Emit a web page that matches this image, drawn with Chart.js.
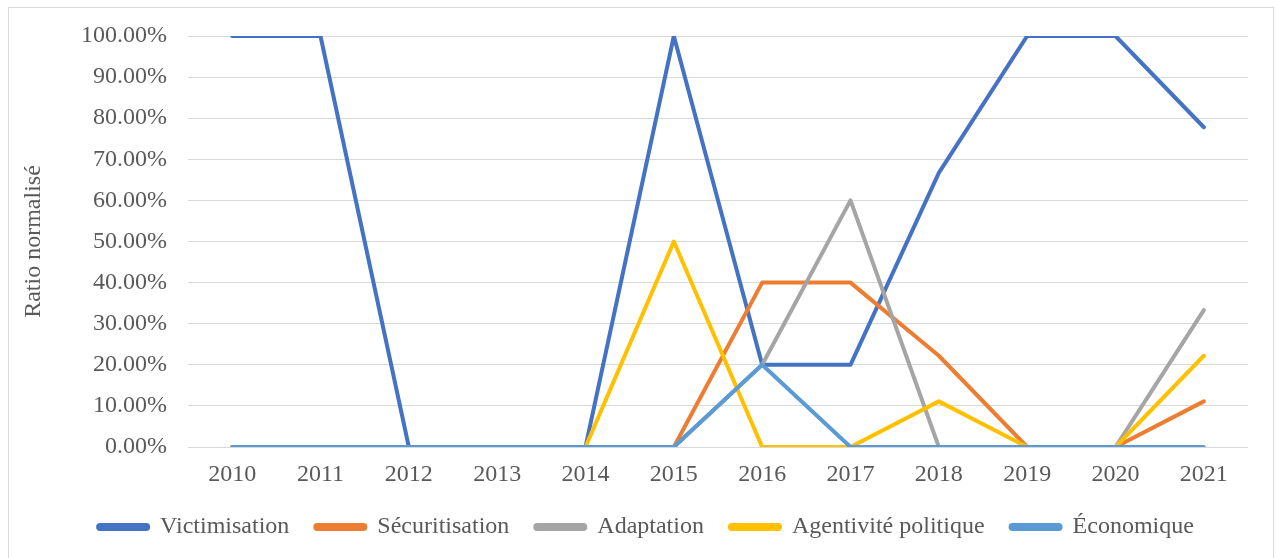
<!DOCTYPE html>
<html>
<head>
<meta charset="utf-8">
<script src="https://cdn.jsdelivr.net/npm/chart.js@4.4.1/dist/chart.umd.min.js"></script>
<style>
    body { margin: 0; background: #fff; }
    #wrap { position: relative; width: 1276px; height: 558px; }
    #frame { position: absolute; left: 8px; top: 7px; width: 1264px; height: 600px; border: 1px solid #d9d9d9; pointer-events: none; }
</style>
</head>
<body>
<div id="wrap">
    <canvas id="myChart" width="1276" height="558"></canvas>
    <div id="frame"></div>
</div>
<script>
    // 데이터
    var years = ['2010', '2011', '2012', '2013', '2014', '2015', '2016', '2017', '2018', '2019', '2020', '2021'];
    var victimisation  = [1, 1, 0, 0, 0, 1, 0.2, 0.2, 0.667, 1, 1, 0.778];
    var securitisation = [0, 0, 0, 0, 0, 0, 0.4, 0.4, 0.222, 0, 0, 0.111];
    var adaptation     = [0, 0, 0, 0, 0, 0, 0.2, 0.6, 0, 0, 0, 0.333];
    var agentivite     = [0, 0, 0, 0, 0, 0.5, 0, 0, 0.111, 0, 0, 0.222];
    var economique     = [0, 0, 0, 0, 0, 0, 0.2, 0, 0, 0, 0, 0];
    var seriesNames = ['Victimisation', 'Sécuritisation', 'Adaptation', 'Agentivité politique', 'Économique'];
    var seriesData = [victimisation, securitisation, adaptation, agentivite, economique];
    var colors = ['#4472c4', '#ed7d31', '#a5a5a5', '#ffc000', '#5b9bd5'];

    var font = "'Liberation Serif', 'Times New Roman', serif";
    var textColor = '#595959';

    var datasets = seriesData.map(function (d, i) {
        return {
            label: seriesNames[i],
            data: d,
            borderColor: colors[i],
            backgroundColor: colors[i],
            borderWidth: 4,
            borderCapStyle: 'round',
            borderJoinStyle: 'round',
            pointRadius: 0,
            tension: 0,
            order: seriesData.length - i // 뒤 시리즈가 위에 그려지도록
        };
    });

    new Chart(document.getElementById('myChart').getContext('2d'), {
        type: 'line',
        data: { labels: years, datasets: datasets },
        options: {
            responsive: false,
            animation: false,
            layout: { padding: { top: 36, right: 28, bottom: 9, left: 44 } },
            plugins: {
                tooltip: { enabled: false },
                legend: {
                    position: 'bottom',
                    labels: {
                        sort: function (a, b) { return a.datasetIndex - b.datasetIndex; },
                        boxWidth: 50,
                        boxHeight: 4,
                        useBorderRadius: true,
                        borderRadius: 2,
                        padding: 26,
                        color: textColor,
                        font: { family: font, size: 24 }
                    }
                }
            },
            scales: {
                x: {
                    offset: true,
                    grid: { display: false },
                    border: { display: false },
                    ticks: { color: textColor, padding: 5, maxRotation: 0, font: { family: font, size: 24 } },
                    afterFit: function (s) { s.height = 42; }
                },
                y: {
                    min: 0,
                    max: 1,
                    grid: { color: '#d9d9d9', lineWidth: 1, drawTicks: false },
                    border: { display: false },
                    ticks: {
                        stepSize: 0.1,
                        padding: 21,
                        color: textColor,
                        font: { family: font, size: 24 },
                        callback: function (v) { return (v * 100).toFixed(2) + '%'; }
                    },
                    title: {
                        display: true,
                        text: 'Ratio normalisé',
                        color: textColor,
                        padding: { top: -25, bottom: 0 },
                        font: { family: font, size: 24 }
                    },
                    afterFit: function (s) { s.width = 144; }
                }
            }
        }
    });
</script>
</body>
</html>
